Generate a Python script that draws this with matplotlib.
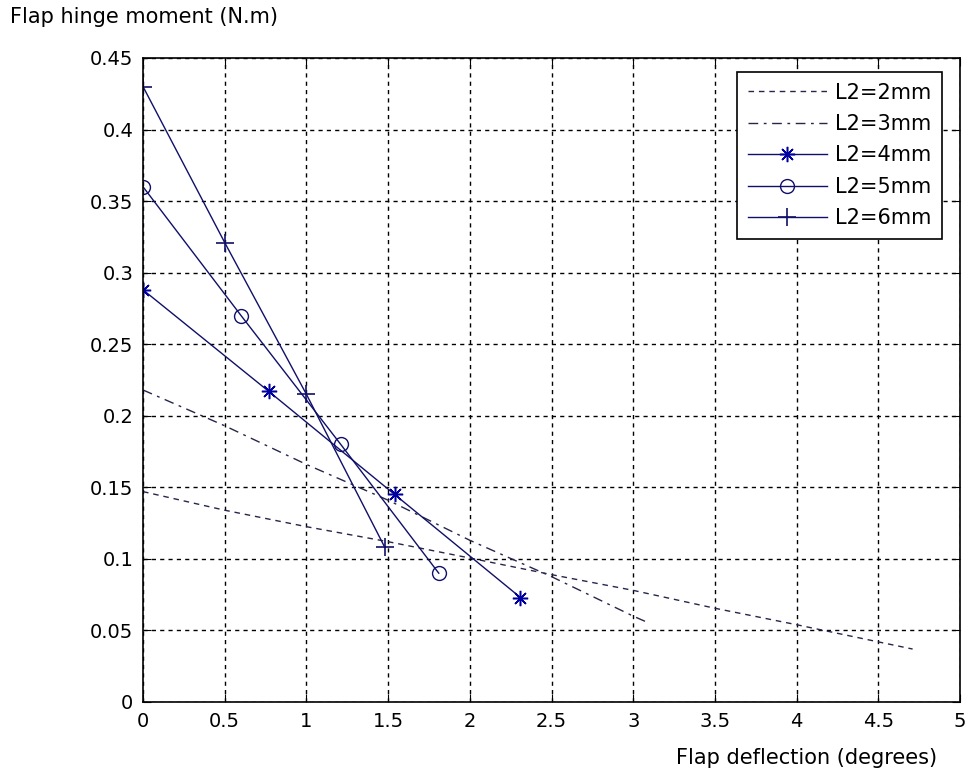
import numpy as np
import matplotlib.pyplot as plt

# values
x_2mm = [0, 0.5, 1.0, 1.5, 2.0, 2.5, 3.0, 3.5, 4.0, 4.5, 4.71]
y_2mm = [0.147, 0.134, 0.1225, 0.112, 0.1006, 0.089, 0.078, 0.0655, 0.054, 0.042, 0.037]

x_3mm = [0, 0.5, 1.0, 1.5, 2.0, 2.5, 3.0, 3.1]
y_3mm = [0.218, 0.193, 0.166, 0.141, 0.113, 0.0876, 0.060, 0.055]

x_4mm = [0, 0.77, 1.54, 2.31]
y_4mm = [0.288, 0.217, 0.145, 0.073]

x_5mm = [0, 0.60, 1.21, 1.81]
y_5mm = [0.36, 0.270, 0.180, 0.090]

x_6mm = [0, 0.5, 1.0, 1.48]
y_6mm = [0.43, 0.321, 0.215, 0.108]

labels = ['L2=2mm', 'L2=3mm', 'L2=4mm', 'L2=5mm', 'L2=6mm']
x_ticks = [0, 0.5, 1, 1.5, 2, 2.5, 3, 3.5, 4, 4.5, 5]
y_ticks = [0, 0.05, 0.1, 0.15, 0.2, 0.25, 0.3, 0.35, 0.4, 0.45]

plt.rcParams['font.family'] = 'DejaVu Sans'
fs = 15
tick_fs = 14
navy = '#10106a'

fig = plt.figure(figsize=(9.69, 7.75), dpi=100)
ax = fig.add_axes([0.1476, 0.0942, 0.8431, 0.831])

ax.plot(x_2mm, y_2mm, color='#26264a', lw=1, linestyle=(0, (4, 3.5)), label=labels[0])
ax.plot(x_3mm, y_3mm, color='#26264a', lw=1, linestyle=(0, (7, 4, 2, 4)), label=labels[1])
ax.plot(x_4mm, y_4mm, color=navy, lw=1, marker=(8, 2, 0), ms=11, mew=1.1,
        mec='#0000a0', label=labels[2])
ax.plot(x_5mm, y_5mm, color=navy, lw=1, marker='o', ms=10, mfc='none', mew=1,
        label=labels[3])
ax.plot(x_6mm, y_6mm, color=navy, lw=1, marker='+', ms=13, mew=1.2, label=labels[4])

ax.set_xlim(0, 5)
ax.set_ylim(0, 0.45)
ax.set_xticks(x_ticks)
ax.set_xticklabels(['0', '0.5', '1', '1.5', '2', '2.5', '3', '3.5', '4', '4.5', '5'])
ax.set_yticks(y_ticks)
ax.set_yticklabels(['0', '0.05', '0.1', '0.15', '0.2', '0.25', '0.3', '0.35', '0.4', '0.45'])
ax.tick_params(direction='in', top=True, right=True, length=6, labelsize=tick_fs,
               colors='black')
ax.tick_params(axis='x', pad=7)
ax.tick_params(axis='y', pad=7)
ax.grid(True, color='black', linestyle=(0, (3, 3)), lw=1)
for s in ax.spines.values():
    s.set_linewidth(1.2)

leg = ax.legend(loc='upper right', bbox_to_anchor=(0.978, 0.978), borderaxespad=0,
                fontsize=fs, fancybox=False, framealpha=1, edgecolor='black',
                handlelength=3.8, labelspacing=0.55, handletextpad=0.4,
                borderpad=0.5)
leg.get_frame().set_linewidth(1.2)

fig.text(0.01, 0.978, 'Flap hinge moment (N.m)', fontsize=fs, va='center', ha='left')
fig.text(0.967, 0.022, 'Flap deflection (degrees)', fontsize=fs, va='center', ha='right')

fig.savefig('out.png', dpi=100)
